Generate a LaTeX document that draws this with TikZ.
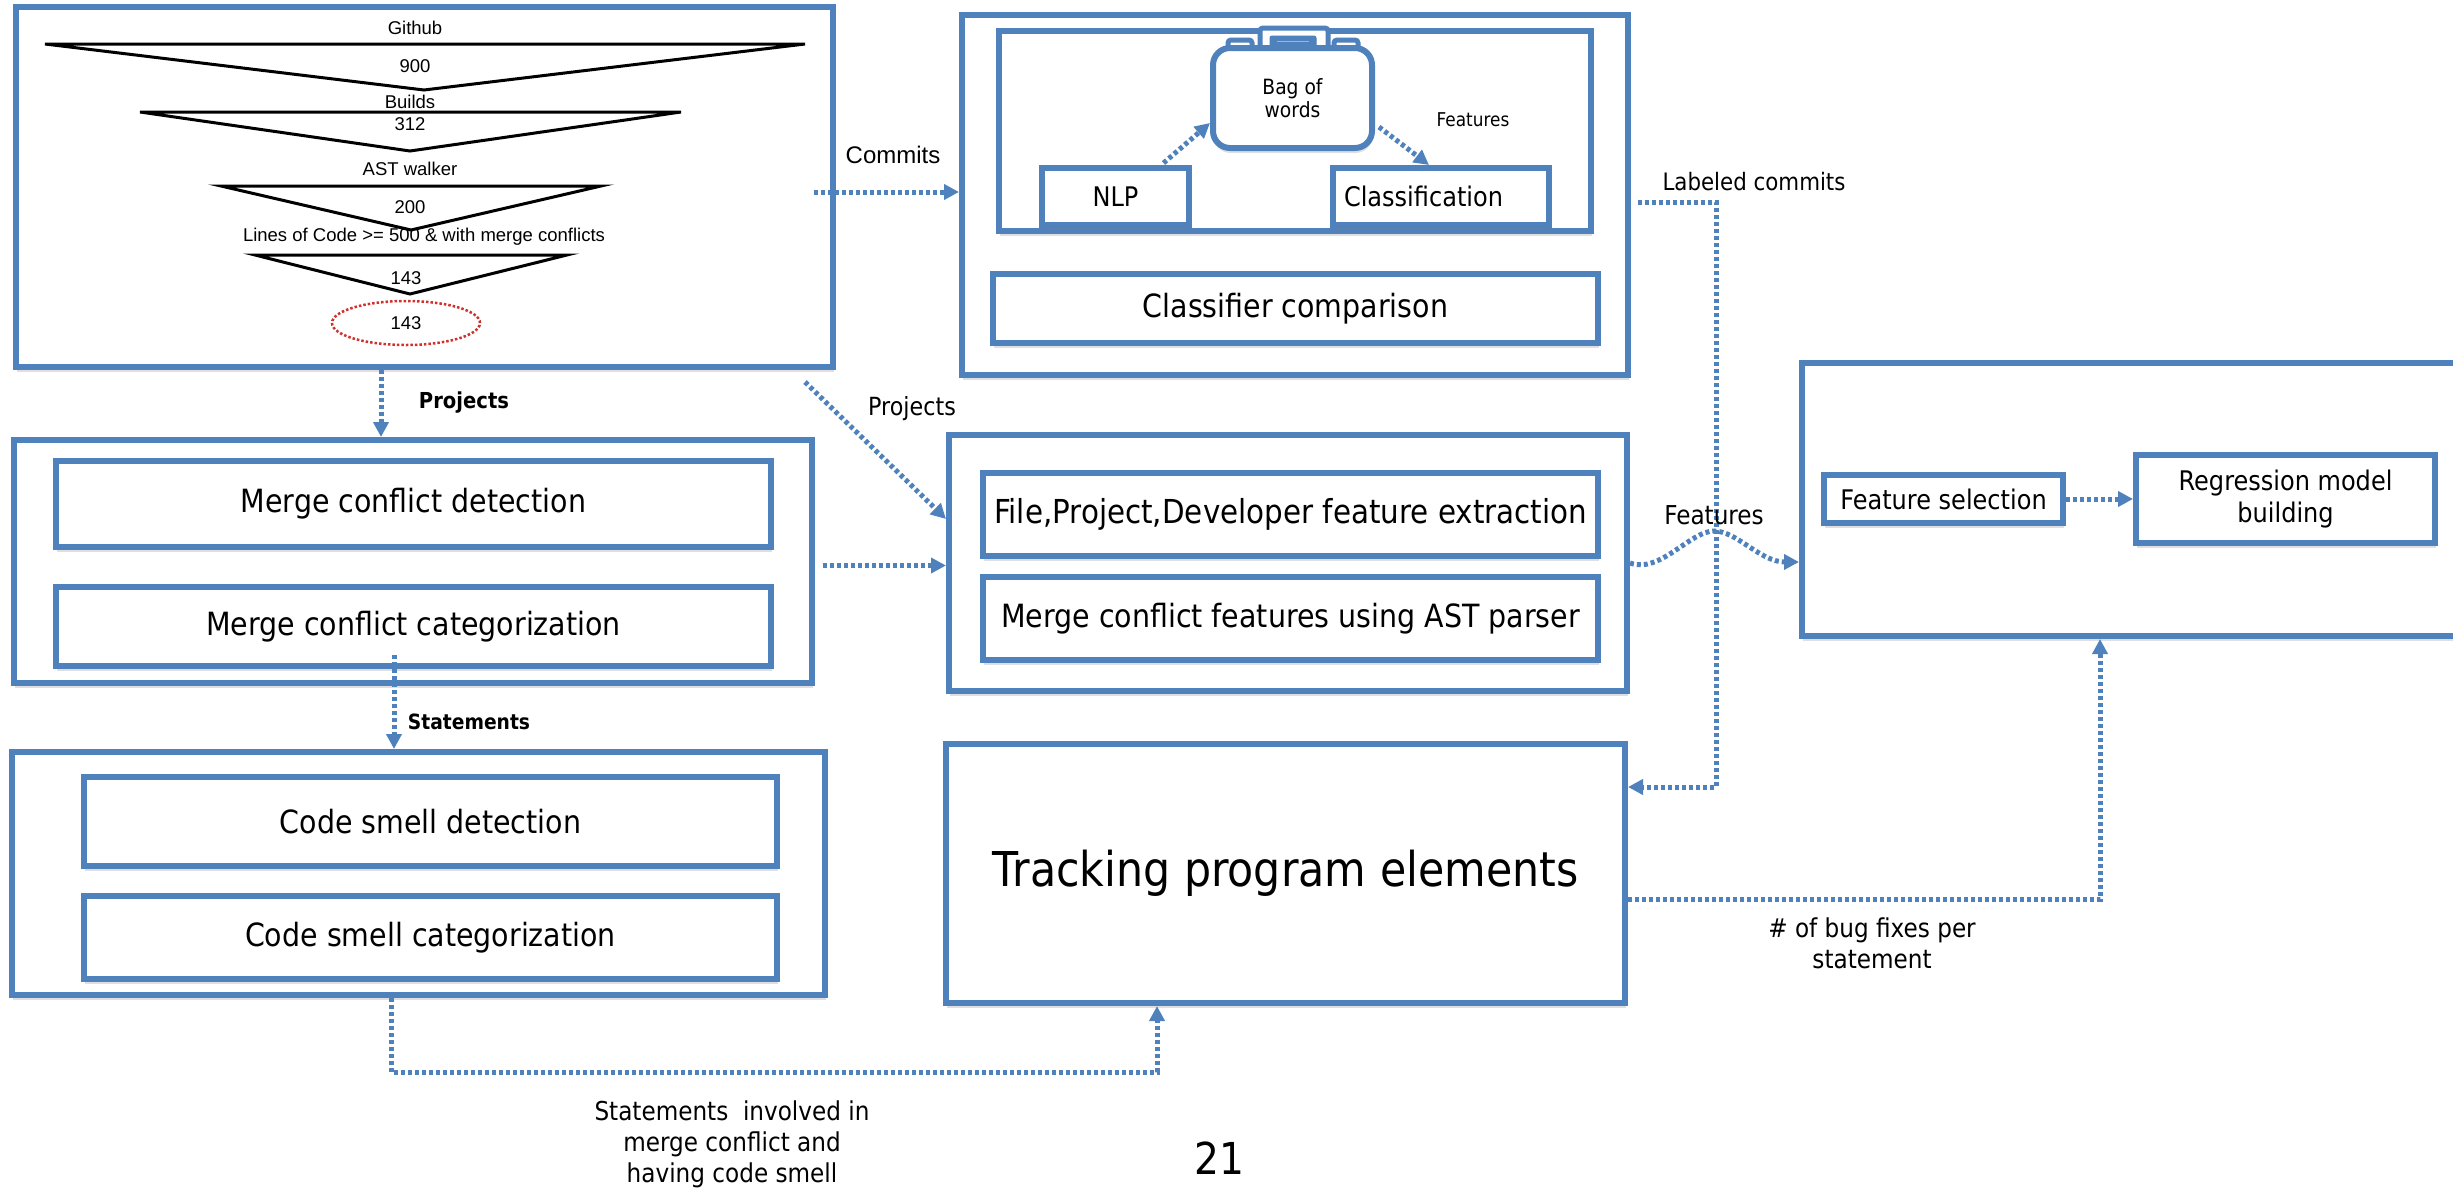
\documentclass[tikz,border=0pt]{standalone}
\usepackage{fontspec}
\setmainfont{DejaVu Sans}[FakeStretch=0.89]
\newfontfamily\arialf{Liberation Sans}
\usetikzlibrary{arrows.meta,calc,shadows,shapes.geometric}
\definecolor{ppblue}{HTML}{4F81BD}
\definecolor{ppred}{HTML}{D0312D}
\newcommand\fsz[2]{\fontsize{#1}{#2}\selectfont}
\begin{document}
\begin{tikzpicture}[x=1pt,y=-1pt,
  box/.style={draw=ppblue, line width=6pt, fill=white, inner sep=0pt, rectangle,
    drop shadow={shadow xshift=0.5pt, shadow yshift=-5pt, opacity=0.25}},
  bx/.style n args={2}{box, minimum width=#1pt, minimum height=#2pt},
  dl/.style={draw=ppblue, line width=5pt, dash pattern=on 4pt off 3pt},
  arr/.style={dl, -{Triangle[length=15pt,width=15pt]}},
  tri/.style={draw=black, line width=3pt, line join=miter},
  fl/.style={font=\arialf\fsz{18.5}{22}, inner sep=0pt},
  lbl/.style={inner sep=0pt, align=center},
  bagl/.style={draw=ppblue, line width=5pt, fill=white, rounded corners=3pt}
]
\useasboundingbox (0,0) rectangle (2453,1189);

% ---------- funnel box ----------
\node[bx={817}{360}] (box1) at (424.5,187) {};
\draw[tri] (45,44) -- (805,44) -- (424,90) -- cycle;
\draw[tri] (140,112) -- (681,112) -- (410,151) -- cycle;
\draw[tri] (221,186) -- (601,186) -- (411,230) -- cycle;
\draw[tri] (255,255) -- (567,255) -- (410,294) -- cycle;
\node[fl] (fgh) at (415,28) {Github};
\node[fl] (f900) at (415,66) {900};
\node[fl] (fbuilds) at (410,102) {Builds};
\node[fl] (f312) at (410,124) {312};
\node[fl] (fast) at (410,169) {AST walker};
\node[fl] (f200) at (410,207) {200};
\node[fl] (floc) at (424,237) {Lines of Code >= 500 \& with merge conflicts};
\node[fl] (f143) at (406,278) {143};
\node[fl, draw=ppred, dotted, line width=2.5pt, ellipse, minimum width=148pt, minimum height=44pt] (fell) at (406,323) {143};

% ---------- classifier box ----------
\node[bx={666}{360}] (box2) at (1295,195) {};
\node[bx={592}{200}] (bow) at (1295,131) {};
\node[bx={605}{69}, font=\fsz{32}{38}] (cc) at (1295.5,308.5) {Classifier comparison};
\node[bx={147}{57}, font=\fsz{27}{32}] (nlp) at (1115.5,196.5) {NLP};
\node[bx={216}{57}, font=\fsz{27}{32}, text width=194pt, align=left] (classif) at (1441,196.5) {Classification};
% bag of words
\draw[bagl] (1228,54) -- (1228,40) -- (1252,40) -- (1252,54);
\draw[bagl] (1334,54) -- (1334,40) -- (1358,40) -- (1358,54);
\draw[bagl] (1260,54) -- (1260,28) -- (1328,28) -- (1328,54);
\node[bx={159}{100}, rounded corners=17pt, align=center, font=\fsz{21}{23}] (bag) at (1292.5,98) {Bag of\\words};
\draw[ppblue, fill=ppblue, line width=1pt, rounded corners=2pt] (1270,36) rectangle (1316,47);
\draw[gray!60, line width=1.5pt] (1277,41.5) -- (1309,41.5);

% ---------- merge conflict box ----------
\node[bx={798}{243}] (boxmc) at (413,561.5) {};
\node[bx={715}{86}, font=\fsz{32}{38}] (mcdet) at (413.5,504) {Merge conflict detection};
\node[bx={715}{79}, font=\fsz{32}{38}] (mccat) at (413.5,626.5) {Merge conflict categorization};

% ---------- feature extraction box ----------
\node[bx={678}{256}] (box3) at (1288,563) {};
\node[bx={615}{83}, font=\fsz{33}{39}] (fpd) at (1290.5,514.5) {File,Project,Developer feature extraction};
\node[bx={615}{83}, font=\fsz{32}{38}] (mcf) at (1290.5,618.5) {Merge conflict features using AST parser};

% ---------- code smell box ----------
\node[bx={813}{243}] (boxcs) at (418.5,873.5) {};
\node[bx={693}{89}, font=\fsz{32}{38}] (csdet) at (430.5,821.5) {Code smell detection};
\node[bx={693}{83}, font=\fsz{32}{38}] (cscat) at (430.5,937.5) {Code smell categorization};

% ---------- tracking ----------
\node[bx={679}{259}, font=\fsz{48}{56}] (track) at (1285.5,873.5) {Tracking program elements};

% ---------- regression box ----------
\node[bx={673}{273}] (boxr) at (2138.5,499.5) {};
\node[bx={239}{48}, font=\fsz{27}{32}] (fsel) at (1943.5,499) {Feature selection};
\node[bx={299}{88}, font=\fsz{27}{32}, align=center] (regr) at (2285.5,499) {Regression model\\building};

% ---------- connectors ----------
\draw[arr] ($(box1.east)+(-22,5)$) coordinate (pc) -- (pc -| box2.west);
\draw[arr] ($(nlp.north)+(48,-2)$) -- ($(bag.south west)+(0,-28)$);
\draw[arr] ($(bag.south east)+(4,-24)$) -- ($(classif.north)+(-12,0)$);
\draw[arr] ($(box1.south east)+(-31,12)$) -- ($(box3.north west)+(0,87)$);
\draw[arr] ($(box1.south west)+(368,0)$) coordinate (pd) -- (pd |- boxmc.north);
\draw[arr] ($(boxmc.east)+(8,4)$) coordinate (pm) -- (pm -| box3.west);
\draw[arr] ($(mccat.south west)+(341,-14)$) coordinate (ps) -- (ps |- boxcs.north);
\draw[arr] (box3.east) .. controls (1660,574) and (1690,531) .. (1714,531)
           .. controls (1737,531) and (1760,562) .. ($(boxr.south west)+(0,-77)$);
\draw[arr] ($(box2.east)+(7,7)$) -- ++(78,0) |- ($(track.north east)+(0,46)$);
\draw[arr] ($(track.east)+(0,26)$) -| ($(boxr.south west)+(301,0)$);
\draw[arr] ($(boxcs.south west)+(382,0)$) -- ++(0,74) -| ($(track.south west)+(214,0)$);
\draw[arr] (fsel.east) -- (regr.west);

% ---------- labels ----------
\node[lbl, font=\arialf\fsz{24}{28}] (lcommits) at (893,155) {Commits};
\node[lbl, font=\fsz{19}{22}] (lfeat1) at (1473,120) {Features};
\node[lbl, font=\fsz{24}{28}] (llab) at (1754,182) {Labeled commits};
\node[lbl, font=\bfseries\fsz{22}{26}] (lproj1) at (464,403) {Projects};
\node[lbl, font=\fsz{25}{30}] (lproj2) at (912,409) {Projects};
\node[lbl, font=\bfseries\fsz{21}{25}] (lstat) at (469,722) {Statements};
\node[lbl, font=\fsz{26}{31}] (lfeat2) at (1714,515) {Features};
\node[lbl, font=\fsz{26}{31}] (lbug) at (1872,943) {\# of bug fixes per\\statement};
\node[lbl, font=\fsz{26}{31}] (lsinv) at (732,1144) {Statements~ involved in\\merge conflict and\\having code smell};
\node[lbl, font=\fsz{44}{50}] (pnum) at (1219,1158) {21};
\end{tikzpicture}
\end{document}
